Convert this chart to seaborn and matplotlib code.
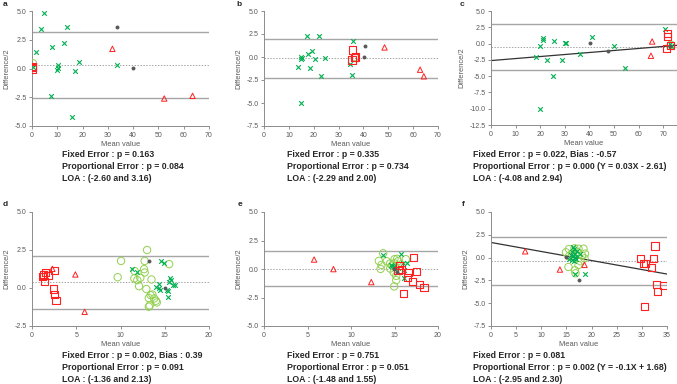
import matplotlib
matplotlib.use('Agg')
import matplotlib.pyplot as plt
import seaborn as sns

# ---- data (mean value, difference/2) ----
# a
A_CROSS_X = [4.9, 3.6, 13.7, 1.5, 7.8, 12.7, 10.3, 10.1, 10.0, 16.9, 18.6, 33.7, 7.5, 15.8, 0.2]
A_CROSS_Y = [4.86, 3.41, 3.62, 1.46, 1.86, 2.20, 0.33, 0.04, -0.16, -0.19, 0.59, 0.33, -2.41, -4.22, 0.10]
A_TRI_X = [31.8, 52.3, 63.5]
A_TRI_Y = [1.71, -2.61, -2.38]
A_SQ_X = [0.1, 0.1, 0.2]
A_SQ_Y = [0.20, -0.05, 0.10]
A_CIRC_X = [0.4]
A_CIRC_Y = [0.45]
A_DOT_X = [33.6, 40.1]
A_DOT_Y = [3.62, 0.01]

# b
B_CROSS_X = [17.1, 22.2, 35.8, 19.5, 17.6, 15.0, 15.1, 15.0, 20.6, 24.7, 13.8, 18.6, 23.0, 35.4, 34.6, 15.0]
B_CROSS_Y = [2.29, 2.26, 1.79, 0.68, 0.35, -0.04, -0.15, -0.26, -0.19, -0.08, -1.05, -1.16, -2.03, -2.00, -0.77, -4.96]
B_TRI_X = [48.5, 62.8, 64.3]
B_TRI_Y = [1.04, -1.38, -2.10]
B_SQ_X = [35.7, 35.4, 36.5, 36.8]
B_SQ_Y = [0.75, -0.33, -0.04, 0.0]
B_CIRC_X = [36.6]
B_CIRC_Y = [-0.02]
B_DOT_X = [40.5, 40.1]
B_DOT_Y = [1.21, 0.03]

# c
C_CROSS_X = [21.2, 21.0, 25.6, 30.3, 30.2, 19.8, 41.2, 49.8, 18.2, 22.7, 29.0, 36.0, 25.1, 19.9, 54.5, 70.7, 73.0, 72.8]
C_CROSS_Y = [0.88, 0.62, 0.42, 0.16, 0.06, -0.39, 1.08, -0.39, -2.02, -2.48, -2.58, -1.67, -4.98, -9.98, -3.80, 2.19, -0.30, -0.10]
C_TRI_X = [65.5, 65.0]
C_TRI_Y = [0.32, -1.87]
C_SQ_X = [71.8, 71.6, 71.4, 73.0]
C_SQ_Y = [1.54, 1.13, -0.75, -0.24]
C_CIRC_X = [73.1]
C_CIRC_Y = [-0.20]
C_DOT_X = [40.3, 47.5, 72.6]
C_DOT_Y = [0.06, -1.16, -0.30]

# d
D_CROSS_X = [11.26, 11.9, 14.6, 14.95, 14.3, 13.96, 14.3, 14.5, 15.2, 15.36, 15.67, 15.63, 15.5, 15.9, 16.2, 15.4]
D_CROSS_Y = [1.26, 1.06, 1.76, 1.63, 0.28, 0.06, -0.03, -0.12, -0.10, -0.18, 0.54, 0.69, 0.38, 0.19, 0.19, -0.60]
D_TRI_X = [2.3, 4.9, 5.95]
D_TRI_Y = [1.26, 0.89, -1.57]
D_SQ_X = [1.21, 1.32, 1.51, 1.81, 1.43, 2.56, 2.41, 2.56, 2.71]
D_SQ_Y = [0.74, 0.85, 1.03, 0.81, 0.42, 1.16, -0.07, -0.42, -0.81]
D_CIRC_X = [13.0, 10.06, 12.73, 15.5, 9.68, 12.66, 12.73, 11.6, 11.56, 11.9, 12.1, 12.24, 12.92,
            13.5, 13.4, 13.6, 13.8, 14.0, 14.1, 13.2, 13.3, 13.2]
D_CIRC_Y = [2.50, 1.78, 1.78, 1.57, 0.71, 1.24, 1.02, 1.11, 0.63, 0.52, 0.12, 0.67, -0.07,
            0.56, -0.47, -0.43, -0.69, -0.84, -0.95, -0.66, -1.15, -1.23]
D_DOT_X = [13.2, 15.0]
D_DOT_Y = [1.78, 0.01]

# e
E_CROSS_X = [13.7, 15.7, 14.6, 14.7, 16.0, 16.4, 16.07, 16.1, 15.4, 14.9]
E_CROSS_Y = [1.21, 1.33, 0.36, 0.22, 0.54, 0.51, -0.83, -0.10, 0.13, 0.30]
E_TRI_X = [5.76, 7.98, 12.33]
E_TRI_Y = [0.83, -0.01, -1.15]
E_SQ_X = [17.2, 15.57, 17.5, 16.56, 16.45, 17.06, 17.9, 18.4, 16.0, 15.4, 15.8]
E_SQ_Y = [1.03, 0.34, -0.25, -0.31, -0.74, -1.09, -1.33, -1.59, -2.17, -0.10, -0.05]
E_CIRC_X = [13.7, 13.2, 13.5, 14.1, 13.4, 14.5, 15.0, 15.3, 15.4, 14.96, 15.1, 15.2, 15.2,
            14.96, 14.9, 14.5, 16.3, 14.7]
E_CIRC_Y = [1.38, 0.71, 0.36, 0.68, 0.01, 0.48, 0.86, 0.89, 0.68, 0.51, 0.19, -0.60, -0.98,
            -1.53, -0.30, 0.04, 0.86, 0.30]
E_DOT_X = [15.3, 14.9]
E_DOT_Y = [-0.22, 0.0]

# f
F_CROSS_X = [16.3, 16.57, 16.2, 16.8, 15.9, 16.8, 17.0, 16.1, 16.5, 15.6, 17.6, 17.2, 16.4, 16.7, 16.8, 18.6]
F_CROSS_Y = [1.14, 0.95, 0.66, 0.41, 0.26, 0.08, -0.14, -0.21, -0.36, -0.14, 0.34, 0.74, 0.23, -0.07, -1.75, -1.85]
F_TRI_X = [6.8, 13.7, 18.6]
F_TRI_Y = [0.69, -1.31, -0.80]
F_SQ_X = [32.6, 29.7, 32.3, 30.3, 30.7, 31.9, 32.9, 34.3, 33.1, 30.5]
F_SQ_Y = [1.28, -0.10, -0.10, -0.61, -0.65, -1.06, -2.99, -3.06, -3.72, -5.32]
F_CIRC_X = [14.9, 15.5, 16.6, 17.4, 18.4, 18.7, 18.6, 17.8, 17.4, 16.7, 15.4, 16.8, 16.1, 17.3, 15.5, 18.1]
F_CIRC_Y = [0.58, 0.94, 1.02, 0.98, 0.98, 0.43, -0.08, -0.41, -0.81, -1.39, -1.03, -1.72, 0.44, 0.59, 0.15, 0.23]
F_DOT_X = [15.0, 17.5]
F_DOT_Y = [0.03, -2.49]

# limits of agreement (lower, upper) and regression fits (slope, intercept)
LOA = {'a': (-2.60, 3.16), 'b': (-2.29, 2.00), 'c': (-4.08, 2.94),
       'd': (-1.36, 2.13), 'e': (-1.48, 1.55), 'f': (-2.95, 2.30)}
FIT = {'c': (0.031, -2.61), 'f': (-0.099, 1.66)}

TEXTS = {
    'a': ['Fixed Error : p = 0.163', 'Proportional Error : p = 0.084', 'LOA : (-2.60 and 3.16)'],
    'b': ['Fixed Error : p = 0.335', 'Proportional Error : p = 0.734', 'LOA : (-2.29 and 2.00)'],
    'c': ['Fixed Error : p = 0.022, Bias : -0.57', 'Proportional Error : p = 0.000 (Y = 0.03X - 2.61)',
          'LOA : (-4.08 and 2.94)'],
    'd': ['Fixed Error : p = 0.002, Bias : 0.39', 'Proportional Error : p = 0.091', 'LOA : (-1.36 and 2.13)'],
    'e': ['Fixed Error : p = 0.751', 'Proportional Error : p = 0.051', 'LOA : (-1.48 and 1.55)'],
    'f': ['Fixed Error : p = 0.081', 'Proportional Error : p = 0.002 (Y = -0.1X + 1.68)',
          'LOA : (-2.95 and 2.30)'],
}

GREEN = '#00b050'
RED = '#ff2020'
LIGHT_GREEN = '#92d050'
GRAY = '#595959'

sns.set_style('ticks')
plt.rcParams['font.family'] = ['Liberation Sans', 'DejaVu Sans']

W, H = 677, 384
fig = plt.figure(figsize=(W / 100, H / 100), dpi=100)


def px_axes(left, top, right, bottom):
    return fig.add_axes([left / W, 1 - bottom / H, (right - left) / W, (bottom - top) / H])


# panel: (data, box in px, xlim, xticks, ylim, label pos, text pos)
panels = [
    ('a', (A_CROSS_X, A_CROSS_Y, A_TRI_X, A_TRI_Y, A_SQ_X, A_SQ_Y, A_CIRC_X, A_CIRC_Y, A_DOT_X, A_DOT_Y),
     (32, 11, 209, 126), (0, 70), range(0, 71, 10), (-5, 5), (3, 5), (62, 155)),
    ('b', (B_CROSS_X, B_CROSS_Y, B_TRI_X, B_TRI_Y, B_SQ_X, B_SQ_Y, B_CIRC_X, B_CIRC_Y, B_DOT_X, B_DOT_Y),
     (264, 11, 438, 126), (0, 70), range(0, 71, 10), (-7.5, 5), (236, 5), (287, 155)),
    ('c', (C_CROSS_X, C_CROSS_Y, C_TRI_X, C_TRI_Y, C_SQ_X, C_SQ_Y, C_CIRC_X, C_CIRC_Y, C_DOT_X, C_DOT_Y),
     (491, 11, 677, 125), (0, 75.6), range(0, 71, 10), (-12.5, 5), (460, 5), (473, 155)),
    ('d', (D_CROSS_X, D_CROSS_Y, D_TRI_X, D_TRI_Y, D_SQ_X, D_SQ_Y, D_CIRC_X, D_CIRC_Y, D_DOT_X, D_DOT_Y),
     (32, 212, 209, 326), (0, 20), range(0, 21, 5), (-2.5, 5), (3, 204), (62, 356)),
    ('e', (E_CROSS_X, E_CROSS_Y, E_TRI_X, E_TRI_Y, E_SQ_X, E_SQ_Y, E_CIRC_X, E_CIRC_Y, E_DOT_X, E_DOT_Y),
     (264, 212, 438, 326), (0, 20), range(0, 21, 5), (-5, 5), (238, 204), (287, 356)),
    ('f', (F_CROSS_X, F_CROSS_Y, F_TRI_X, F_TRI_Y, F_SQ_X, F_SQ_Y, F_CIRC_X, F_CIRC_Y, F_DOT_X, F_DOT_Y),
     (491, 212, 667, 326), (0, 35), range(0, 36, 5), (-7.5, 5), (462, 204), (473, 356)),
]

for name, d, box, xlim, xticks, ylim, lab, txt in panels:
    cx, cy, tx, ty, sx, sy, ox, oy, gx, gy = d
    ax = px_axes(*box)

    lo, hi = LOA[name]
    ax.axhline(hi, color='#a6a6a6', lw=1.0, zorder=1)
    ax.axhline(lo, color='#a6a6a6', lw=1.0, zorder=1)
    ax.axhline((lo + hi) / 2, color='#a6a6a6', lw=0.7, ls=(0, (1.5, 1.5)), zorder=1)
    if name in FIT:
        k, b0 = FIT[name]
        ax.plot([xlim[0], xlim[1]], [b0 + k * xlim[0], b0 + k * xlim[1]], color='#333333', lw=0.9, zorder=2)

    sns.scatterplot(x=ox, y=oy, ax=ax, marker='o', s=28, facecolor='none', edgecolor=LIGHT_GREEN,
                    linewidth=0.7, zorder=3)
    sns.scatterplot(x=cx, y=cy, ax=ax, marker='x', s=11, color=GREEN, linewidth=0.8, zorder=4)
    sns.scatterplot(x=tx, y=ty, ax=ax, marker='^', s=15, facecolor='none', edgecolor=RED,
                    linewidth=0.7, zorder=4)
    sns.scatterplot(x=sx, y=sy, ax=ax, marker='s', s=27, facecolor='none', edgecolor=RED,
                    linewidth=0.8, zorder=5)
    sns.scatterplot(x=gx, y=gy, ax=ax, marker='o', s=8, color=GRAY, linewidth=0, zorder=6)

    ax.set_xlim(*xlim)
    ax.set_ylim(*ylim)
    ax.set_xticks(list(xticks))
    yt = [ylim[0] + 2.5 * i for i in range(int(round((ylim[1] - ylim[0]) / 2.5)) + 1)]
    ax.set_yticks(yt)
    ax.set_yticklabels(['%.1f' % v for v in yt])
    ax.tick_params(labelsize=5.0, colors='#7f7f7f', labelcolor='#595959', length=2, width=0.6, pad=2)
    sns.despine(ax=ax)
    for sp in ('left', 'bottom'):
        ax.spines[sp].set_color('#8c8c8c')
        ax.spines[sp].set_linewidth(0.7)

    ax.set_xlabel('Mean value', fontsize=5.4, color='#595959', labelpad=1.5)
    ax.set_ylabel('Difference/2', fontsize=5.4, color='#595959', labelpad=2.5)

    fig.text(lab[0] / W, 1 - lab[1] / H, name, fontsize=6, weight='bold', va='center', ha='left')
    for i, line in enumerate(TEXTS[name]):
        fig.text(txt[0] / W, 1 - (txt[1] + 11.7 * i) / H, line, fontsize=6.35, weight='bold',
                 va='center', ha='left')

fig.savefig('out.png', dpi=100)
